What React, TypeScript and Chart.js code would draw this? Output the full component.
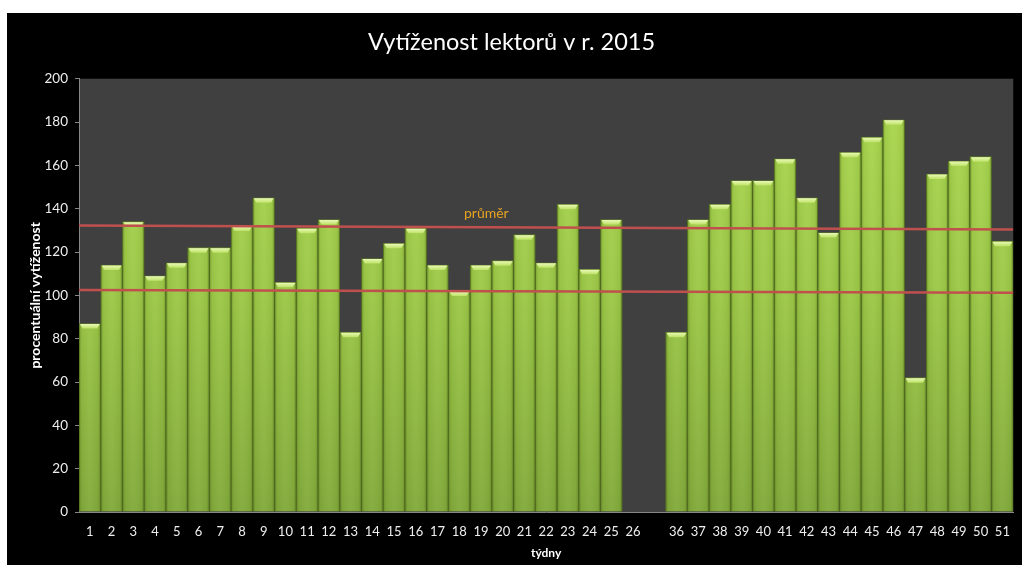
import React, { useEffect, useRef } from 'react';
import { Chart, registerables } from 'chart.js';

Chart.register(...registerables);

const chartTitle = 'Vytíženost lektorů v r. 2015';
const yAxisTitle = 'procentuální vytíženost';
const xAxisTitle = 'týdny';

const weeks = [
  '1', '2', '3', '4', '5', '6', '7', '8', '9', '10', '11', '12', '13',
  '14', '15', '16', '17', '18', '19', '20', '21', '22', '23', '24', '25', '26',
  '',
  '36', '37', '38', '39', '40', '41', '42', '43', '44', '45', '46', '47', '48', '49', '50', '51',
];

const utilization: (number | null)[] = [
  87, 114, 134, 109, 115, 122, 122, 132, 145, 106, 131, 135, 83,
  117, 124, 131, 114, 102, 114, 116, 128, 115, 142, 112, 135, null,
  null,
  83, 135, 142, 153, 153, 163, 145, 129, 166, 173, 181, 62, 156, 162, 164, 125,
];

// two reference lines spanning the whole plot width (0 = left edge, 1 = right edge)
const upperLine = [{ x: 0, y: 132.2 }, { x: 1, y: 130.4 }];
const lowerLine = [{ x: 0, y: 102.5 }, { x: 1, y: 101.2 }];

const averageLabel = 'průměr';
const averageLabelPos = { x: 0.436, y: 138 };

const yMin = 0;
const yMax = 200;
const yStep = 20;

const FONT = 'Lato, "Open Sans", sans-serif';

const plotBgPlugin = {
  id: 'plotBg',
  beforeDraw(chart: any) {
    const { ctx, chartArea } = chart;
    if (!chartArea) return;
    ctx.save();
    ctx.fillStyle = '#404040';
    ctx.fillRect(chartArea.left, chartArea.top, chartArea.right - chartArea.left, chartArea.bottom - chartArea.top);
    ctx.restore();
  },
};

const barShadePlugin = {
  id: 'barShade',
  afterDatasetDraw(chart: any, args: any) {
    if (args.index !== 0) return;
    const { ctx } = chart;
    const meta = args.meta;
    ctx.save();
    meta.data.forEach((bar: any, i: number) => {
      if (utilization[i] == null) return;
      const { x, y, base, width } = bar.getProps(['x', 'y', 'base', 'width'], true);
      if (!isFinite(y) || !isFinite(base)) return;
      const l = x - width / 2;
      const r = x + width / 2;
      // horizontal shading
      const hg = ctx.createLinearGradient(l, 0, r, 0);
      hg.addColorStop(0, 'rgba(50,70,10,0.35)');
      hg.addColorStop(0.12, 'rgba(50,70,10,0.06)');
      hg.addColorStop(0.5, 'rgba(255,255,255,0.04)');
      hg.addColorStop(0.88, 'rgba(50,70,10,0.06)');
      hg.addColorStop(1, 'rgba(50,70,10,0.35)');
      ctx.fillStyle = hg;
      ctx.fillRect(l, y, width, base - y);
      // top bevel
      const bh = 5;
      const vg = ctx.createLinearGradient(0, y, 0, y + bh);
      vg.addColorStop(0, '#eefbbf');
      vg.addColorStop(1, '#bde265');
      ctx.fillStyle = vg;
      ctx.beginPath();
      ctx.moveTo(l + 1, y + 0.5);
      ctx.lineTo(r - 1, y + 0.5);
      ctx.lineTo(r - 3.5, y + bh);
      ctx.lineTo(l + 3.5, y + bh);
      ctx.closePath();
      ctx.fill();
    });
    ctx.restore();
  },
};

const labelPlugin = {
  id: 'avgLabel',
  afterDraw(chart: any) {
    const { ctx, scales } = chart;
    const px = scales.x2.getPixelForValue(averageLabelPos.x);
    const py = scales.y.getPixelForValue(averageLabelPos.y);
    ctx.save();
    ctx.font = `14px ${FONT}`;
    ctx.fillStyle = '#e6a321';
    ctx.textAlign = 'center';
    ctx.textBaseline = 'middle';
    ctx.fillText(averageLabel, px, py);
    ctx.restore();
  },
};

export default function App() {
  const canvasRef = useRef<HTMLCanvasElement | null>(null);

  useEffect(() => {
    if (!canvasRef.current) return;
    const chart = new Chart(canvasRef.current, {
      type: 'bar',
      data: {
        labels: weeks,
        datasets: [
          {
            type: 'bar',
            data: utilization as any,
            order: 2,
            grouped: false,
            barPercentage: 1,
            categoryPercentage: 1,
            borderWidth: 1,
            borderColor: '#5f7f27',
            backgroundColor: (c: any) => {
              const ca = c.chart.chartArea;
              if (!ca) return '#9bc545';
              const g = c.chart.ctx.createLinearGradient(0, ca.top, 0, ca.bottom);
              g.addColorStop(0, '#acd950');
              g.addColorStop(0.5, '#9cc847');
              g.addColorStop(1, '#82aa3b');
              return g;
            },
          },
          {
            type: 'line',
            data: upperLine as any,
            xAxisID: 'x2',
            order: 0,
            borderColor: '#c0504d',
            borderWidth: 2.5,
            pointRadius: 0,
            fill: false,
          },
          {
            type: 'line',
            data: lowerLine as any,
            xAxisID: 'x2',
            order: 0,
            borderColor: '#c0504d',
            borderWidth: 2.5,
            pointRadius: 0,
            fill: false,
          },
        ],
      },
      options: {
        animation: false,
        responsive: true,
        maintainAspectRatio: false,
        layout: { padding: { left: 0, right: 6, top: 0, bottom: 0 } },
        plugins: {
          legend: { display: false },
          tooltip: { enabled: false },
          title: {
            display: true,
            text: chartTitle,
            color: '#ffffff',
            font: { family: FONT, size: 23.5, weight: 'normal' },
            padding: { top: 15, bottom: 22.5 },
          },
        },
        scales: {
          x: {
            type: 'category',
            offset: true,
            grid: { display: false, drawTicks: false },
            border: { display: true, color: '#868686', width: 1 },
            ticks: {
              color: '#eeeeee',
              font: { family: FONT, size: 13 },
              padding: 12,
              maxRotation: 0,
              autoSkip: false,
            },
            title: {
              display: true,
              text: xAxisTitle,
              color: '#ffffff',
              font: { family: FONT, size: 12, weight: 'bold' },
              padding: { top: 0, bottom: 5 },
            },
            afterFit: (s: any) => { s.height = 53; },
          },
          x2: {
            type: 'linear',
            min: 0,
            max: 1,
            offset: false,
            display: false,
          },
          y: {
            min: yMin,
            max: yMax,
            ticks: {
              stepSize: yStep,
              color: '#eeeeee',
              font: { family: FONT, size: 13.5 },
              padding: 7,
            },
            grid: { drawOnChartArea: false, drawTicks: true, tickLength: 4, color: '#868686' },
            border: { display: true, color: '#868686', width: 1 },
            title: {
              display: true,
              text: yAxisTitle,
              color: '#ffffff',
              font: { family: FONT, size: 14, weight: 'bold' },
              padding: { top: 20, bottom: 0 },
            },
            afterFit: (s: any) => { s.width = 72; },
          },
        },
      } as any,
      plugins: [plotBgPlugin, barShadePlugin, labelPlugin],
    });
    return () => chart.destroy();
  }, []);

  return (
    <div
      style={{
        position: 'absolute',
        left: 7,
        top: 13,
        width: 1015,
        height: 552,
        background: '#000000',
      }}
    >
      <canvas ref={canvasRef} />
    </div>
  );
}
